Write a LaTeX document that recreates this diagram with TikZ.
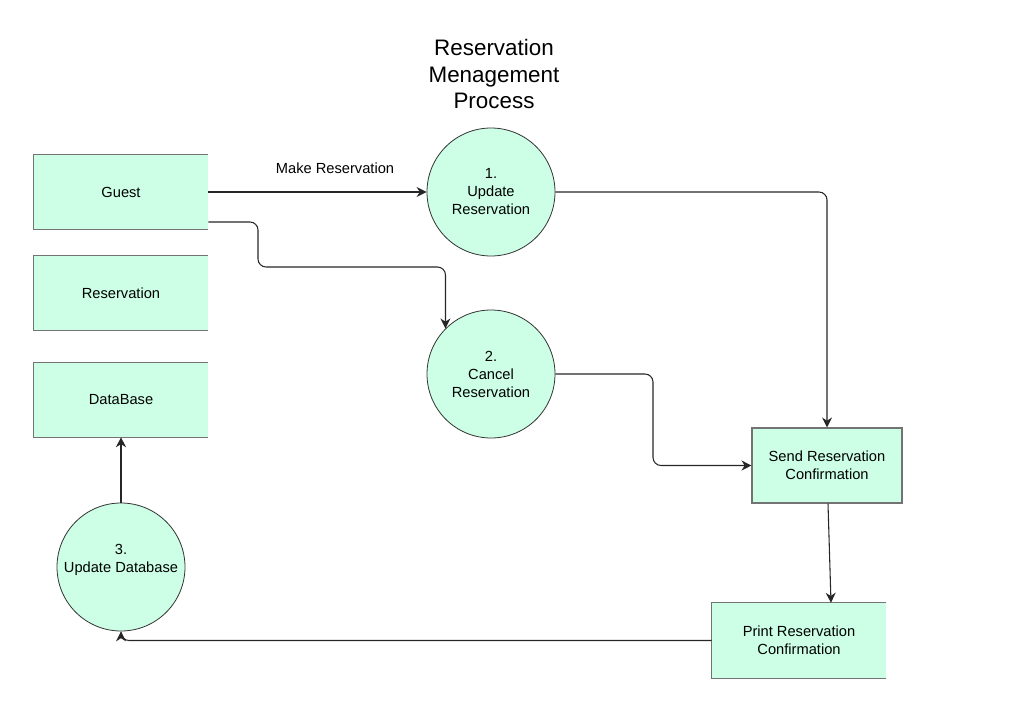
\documentclass[tikz,border=0pt]{standalone}
\usepackage{fontspec}
\setmainfont{Liberation Sans}
\usetikzlibrary{arrows.meta}
\definecolor{mint}{HTML}{CCFFE6}
\begin{document}
\begin{tikzpicture}[x=0.75pt,y=-0.75pt, font=\fontsize{11}{13.5}\selectfont,
  store/.style={fill=mint, minimum width=130.5pt, minimum height=55.5pt, inner sep=0pt, align=center},
  proc/.style={circle, draw=black!80, line width=0.6pt, fill=mint, minimum size=96pt, inner sep=0pt, align=center},
  box/.style={draw=black!55, line width=0.8pt, fill=mint, minimum width=112.5pt, minimum height=56.25pt, inner sep=0pt, align=center},
  flow/.style={draw=black!85, line width=0.8pt, rounded corners=6pt, -{Stealth[length=7.5pt,width=7.5pt]}},
  sedge/.style={draw=black!55, line width=0.9pt}]
\useasboundingbox (0,0) rectangle (1031,717);

\node[align=center, font=\fontsize{16.8}{20}\selectfont] (title) at (494,74) {Reservation\\Menagement\\Process};

\node[store] (g) at (121,192) {Guest};
\node[store] (r) at (121,293) {Reservation};
\node[store] (db) at (121,400) {DataBase};
\foreach \n in {g,r,db}{\draw[sedge] (\n.north east) -- (\n.north west) -- (\n.south west) -- (\n.south east);}

\node[proc] (c1) at (491,192) {1.\\Update\\Reservation};
\node[proc] (c2) at (491,374) {2.\\Cancel\\Reservation};
\node[proc] (c3) at (121,567) {3.\\Update Database\\\mbox{}};

\node[box] (send) at (827,465.5) {Send Reservation\\Confirmation};
\node[store, minimum height=56.25pt] (print) at (799,640.5) {Print Reservation\\Confirmation};
\draw[sedge] (print.north east) -- (print.north west) -- (print.south west) -- (print.south east);

\node (lbl) at (335,168) {Make Reservation};

\draw[flow] (g.east) -- (c1.west);
\draw[flow] ([yshift=-22.5pt]g.east) -| (258,267) -| (c2.north west);
\draw[flow] (c1.east) -| (send.north);
\draw[flow] (c2.east) -- (653,374) |- (send.west);
\draw[flow] ([xshift=0.75pt]send.south) -- ([xshift=24pt]print.north);
\draw[flow] (print.west) -| (c3.south);
\draw[flow] (c3.north) -- (db.south);
\end{tikzpicture}
\end{document}
